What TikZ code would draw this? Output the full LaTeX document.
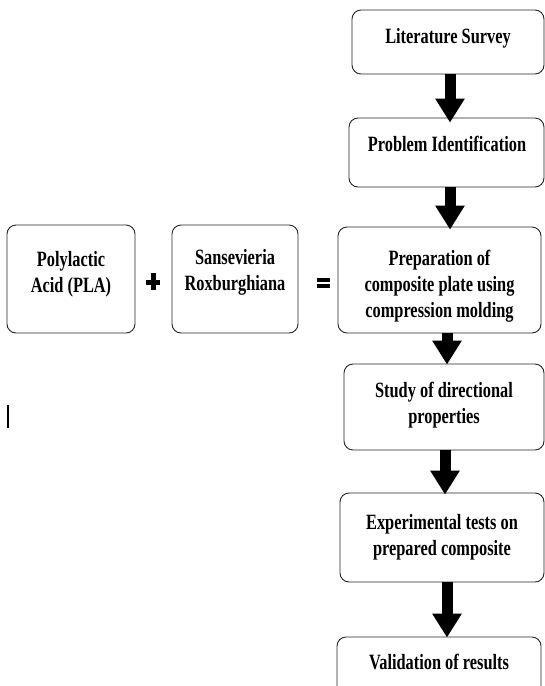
\documentclass[tikz,border=0pt]{standalone}
\usepackage{fontspec}
\setmainfont{Liberation Serif}[FakeStretch=0.75]
\usetikzlibrary{arrows.meta}
\begin{document}
\begin{tikzpicture}[x=1pt,y=-1pt,
  box/.style={draw=black!85, rounded corners=9pt, line width=0.9pt, inner sep=0pt},
  lbl/.style={font=\bfseries\fontsize{21.8}{26}\selectfont, align=center, inner sep=0pt},
  blockarrow/.style={line width=11pt, -{Triangle[width=28pt,length=24pt]}}]
\useasboundingbox (0,0) rectangle (545,686);
\clip (0,0) rectangle (545,686);
% boxes
\node[box, minimum width=192pt, minimum height=64pt]  (lit)   at (448,42) {};
\node[box, minimum width=195pt, minimum height=69pt]  (prob)  at (446.5,152.5) {};
\node[box, minimum width=203pt, minimum height=106pt] (prep)  at (439.5,280) {};
\node[box, minimum width=128pt, minimum height=108pt] (pla)   at (71,279) {};
\node[box, minimum width=126pt, minimum height=108pt] (sans)  at (235,279) {};
\node[box, minimum width=200pt, minimum height=86pt]  (study) at (444,407) {};
\node[box, minimum width=204pt, minimum height=89pt]  (exp)   at (442,537.5) {};
\node[box, minimum width=204pt, minimum height=100pt] (val)   at (439,687) {};
% labels
\node[lbl] (tlit)   at (448,38)    {Literature Survey};
\node[lbl] (tprob)  at (447,144)   {Problem Identification};
\node[lbl] (tprep)  at (439.5,286.5) {Preparation of\\composite plate using\\compression molding};
\node[lbl] (tpla)   at (71,274)    {Polylactic\\Acid (PLA)};
\node[lbl] (tsans)  at (235,272.5) {Sansevieria\\Roxburghiana};
\node[lbl] (tstudy) at (444,405.5) {Study of directional\\properties};
\node[lbl] (texp)   at (442,537.5) {Experimental tests on\\prepared composite};
\node[lbl] (tval)   at (439,662)   {Validation of results};
% arrows
\coordinate (c1) at (450,0);
\coordinate (c2) at (450,0);
\coordinate (c3) at (447,0);
\coordinate (c4) at (445,0);
\coordinate (c5) at (447,0);
\draw[blockarrow] (lit.south -| c1) -- ([yshift=-5pt]prob.north -| c1);
\draw[blockarrow] (prob.south -| c2) -- ([yshift=-3pt]prep.north -| c2);
\draw[blockarrow] (prep.south -| c3) -- ([yshift=-1pt]study.north -| c3);
\draw[blockarrow] (study.south -| c4) -- ([yshift=-2pt]exp.north -| c4);
\draw[blockarrow] (exp.south -| c5) -- ([yshift=-1pt]val.north -| c5);
% plus sign
\fill (146,279.5) rectangle (160,284.5);
\fill (150.5,273) rectangle (155.5,290);
% equals sign
\fill (317,277.5) rectangle (330,281.5);
\fill (317,284) rectangle (330,288);
% stray mark
\draw[line width=1.2pt] (8,405) -- (8,428);
\end{tikzpicture}
\end{document}
